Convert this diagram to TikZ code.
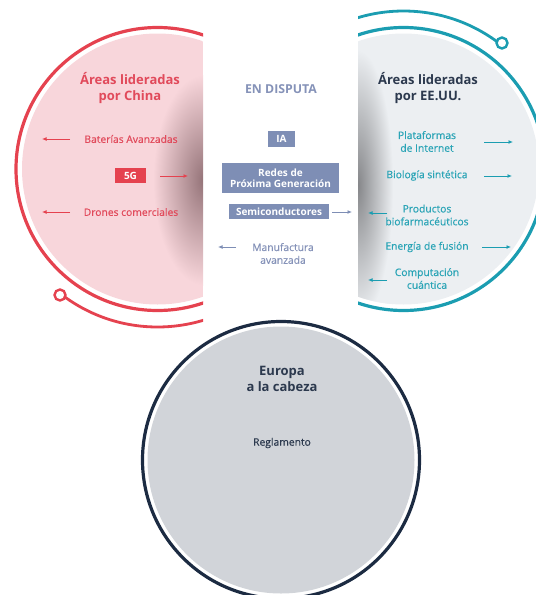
\documentclass[tikz,border=0pt]{standalone}
\usepackage{fontspec}
\setmainfont{Open Sans}
\newfontfamily\semi{Open Sans}[FakeBold=0.5]
\usetikzlibrary{arrows.meta}
\definecolor{cred}{HTML}{E5424F}
\definecolor{cpink}{HTML}{F8D6DB}
\definecolor{credtxt}{HTML}{E14A5B}
\definecolor{cshadL}{HTML}{957479}
\definecolor{cteal}{HTML}{1B9DB1}
\definecolor{ctealtxt}{HTML}{2AA4B6}
\definecolor{cgrayfill}{HTML}{ECEFF2}
\definecolor{cshadR}{HTML}{86878A}
\definecolor{cnavy}{HTML}{1C2B42}
\definecolor{cnavytxt}{HTML}{2C394E}
\definecolor{cslate}{HTML}{7E8EB5}
\definecolor{cslatetxt}{HTML}{8592B8}
\definecolor{ceufill}{HTML}{D1D4D9}
\tikzset{
  headtxt/.style={font=\fontsize{13}{16}\selectfont\bfseries, align=center, inner sep=0},
  lbl/.style={font=\fontsize{10.3}{12.8}\selectfont\semi, align=center, inner sep=0},
  boxnode/.style={fill=cslate, text=white, font=\fontsize{10}{11.5}\selectfont\bfseries, inner sep=0, align=center},
  arr/.style={line width=1pt, -{Latex[length=4.5pt,width=4pt]}},
  dot/.style={circle, draw, line width=2.4pt, fill=white, minimum size=11pt, inner sep=0},
}
\begin{document}
\begin{tikzpicture}[x=1pt,y=-1pt]
\useasboundingbox (0,0) rectangle (536,595);
% ---------- left circle (China)
\begin{scope}
  \clip (0,0) rectangle (203,595);
  \begin{scope}
    \clip (157.5,169) circle[radius=135.5];
    \fill[cpink] (0,0) rectangle (203,595);
    \shade[inner color=cshadL, outer color=cpink] (153,75) rectangle (253,285);
  \end{scope}
  \draw[cred, line width=3.2pt] (157.5,169) circle[radius=141.5];
  \begin{scope}
    \clip (0,295) rectangle (203,595);
    \draw[cred, line width=2.8pt] (157.5,169) circle[radius=158];
  \end{scope}
\end{scope}
\node[dot, draw=cred] (dotL) at (60,295) {};
% ---------- right circle (EE.UU.)
\begin{scope}
  \clip (358,0) rectangle (536,595);
  \begin{scope}
    \clip (403.5,169) circle[radius=135.5];
    \fill[cgrayfill] (358,0) rectangle (536,595);
    \shade[inner color=cshadR, outer color=cgrayfill] (323,50) rectangle (393,320);
  \end{scope}
  \draw[cteal, line width=3.2pt] (403.5,169) circle[radius=141.5];
  \begin{scope}
    \clip (358,0) rectangle (536,43);
    \draw[cteal, line width=2.8pt] (403.5,169) circle[radius=158];
  \end{scope}
\end{scope}
\node[dot, draw=cteal] (dotR) at (502,43) {};
% ---------- bottom circle (Europa)
\fill[ceufill] (281,460) circle[radius=133.5];
\draw[cnavy, line width=3.2pt] (281,460) circle[radius=138.5];
% ---------- left texts
\node[headtxt, text=credtxt] (chinaH) at (130,88) {Áreas lideradas\\por China};
\node[lbl, text=credtxt] (bat) at (131,139) {Baterías Avanzadas};
\node[boxnode, fill=cred, minimum width=31pt, minimum height=15pt] (g5) at (130.5,175.5) {5G};
\node[lbl, text=credtxt] (dron) at (131,212) {Drones comerciales};
\coordinate (batA) at (70,139); \coordinate (batB) at (42,139);
\coordinate (g5A) at (160,176); \coordinate (g5B) at (188,176);
\coordinate (dronA) at (70,212); \coordinate (dronB) at (42,212);
\draw[arr, cred] (batA) -- (batB);
\draw[arr, cred] (g5A) -- (g5B);
\draw[arr, cred] (dronA) -- (dronB);
% ---------- middle band
\node[font=\fontsize{12.3}{14}\selectfont\bfseries, text=cslatetxt, inner sep=0] (disp) at (281,89) {EN DISPUTA};
\node[boxnode, minimum width=27pt, minimum height=16pt] (ia) at (281.5,139) {IA};
\node[boxnode, minimum width=117pt, minimum height=30pt] (redes) at (280.5,178) {Redes de\\Próxima Generación};
\node[boxnode, minimum width=100pt, minimum height=15pt] (semic) at (279,211.5) {Semiconductores};
\node[lbl, text=cslatetxt] (manu) at (283,253.5) {Manufactura\\avanzada};
\coordinate (semA) at (332,212); \coordinate (semB) at (352,212);
\coordinate (manA) at (236,247); \coordinate (manB) at (218,247);
\draw[arr, cslate] (semA) -- (semB);
\draw[arr, cslate] (manA) -- (manB);
% ---------- right texts
\node[headtxt, text=cnavytxt] (usH) at (428,88) {Áreas lideradas\\por EE.UU.};
\node[lbl, text=ctealtxt] (plat) at (427,141.5) {Plataformas\\de Internet};
\node[lbl, text=ctealtxt] (bio) at (427,175.5) {Biología sintética};
\node[lbl, text=ctealtxt] (prod) at (427,215) {Productos\\biofarmacéuticos};
\node[lbl, text=ctealtxt] (ener) at (427,247) {Energía de fusión};
\node[lbl, text=ctealtxt] (comp) at (427,278.5) {Computación\\cuántica};
\coordinate (platA) at (484,142); \coordinate (platB) at (513,142);
\coordinate (bioA) at (484,176); \coordinate (bioB) at (512,176);
\coordinate (prodA) at (387,213); \coordinate (prodB) at (368,213);
\coordinate (enerA) at (482,247); \coordinate (enerB) at (511,247);
\coordinate (compA) at (387,280); \coordinate (compB) at (368,280);
\draw[arr, cteal] (platA) -- (platB);
\draw[arr, cteal] (bioA) -- (bioB);
\draw[arr, cteal] (prodA) -- (prodB);
\draw[arr, cteal] (enerA) -- (enerB);
\draw[arr, cteal] (compA) -- (compB);
% ---------- Europa texts
\node[headtxt, text=cnavytxt] (eu) at (282,378.5) {Europa\\a la cabeza};
\node[lbl, text=cnavytxt] (reg) at (282,443) {Reglamento};
\end{tikzpicture}
\end{document}
